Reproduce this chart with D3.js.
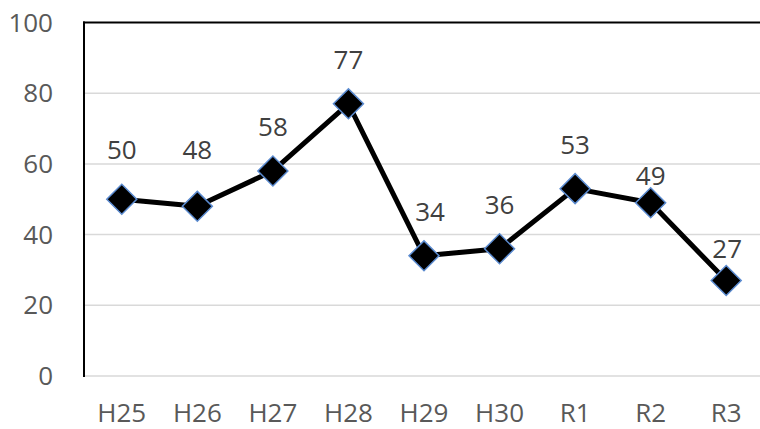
<!DOCTYPE html>
<html><head><meta charset="utf-8">
<script src="https://cdn.jsdelivr.net/npm/d3@7"></script>
<style>html,body{margin:0;padding:0;background:#fff;}svg{display:block;}</style>
</head><body>
<svg id="c" width="760" height="429"></svg>
<script>
const categories = ["H25","H26","H27","H28","H29","H30","R1","R2","R3"];
const values = [50,48,58,77,34,36,53,49,27];
const yTicks = [0,20,40,60,80,100];

(function(){
const svg = d3.select("#c");
const pl = 84, pr = 764, pt = 22.5, pb = 376;
const x = d3.scalePoint().domain(categories).range([pl, pr]).padding(0.5);
const y = d3.scaleLinear().domain([0,100]).range([pb, pt]);
const font = "'Open Sans', sans-serif";
const txt = "#595959";
// label nudges (layout only): [dx, baseline distance above point]
const nudge = [[0,40],[0,47],[0,35],[0,35],[6,35],[0,35],[0,35],[0,18],[1,23]];

// gridlines
svg.append("g").selectAll("line").data(yTicks.filter(d=>d<100)).join("line")
  .attr("x1", pl).attr("x2", 760).attr("y1", d=>y(d)).attr("y2", d=>y(d))
  .attr("stroke", "#d9d9d9").attr("stroke-width", 1.5);
// top border
svg.append("line").attr("x1", pl-1).attr("x2", 760).attr("y1", y(100)).attr("y2", y(100))
  .attr("stroke", "#000").attr("stroke-width", 2);
// left axis
svg.append("line").attr("x1", pl).attr("x2", pl).attr("y1", y(100)-1).attr("y2", y(0)+1)
  .attr("stroke", "#000").attr("stroke-width", 2);

// y tick labels
svg.append("g").selectAll("text").data(yTicks).join("text")
  .attr("x", 53).attr("y", d=>y(d)).attr("dy", "0.35em")
  .attr("text-anchor", "end").attr("font-family", font).attr("font-size", 26)
  .attr("fill", txt).text(d=>d);

// x labels
svg.append("g").selectAll("text").data(categories).join("text")
  .attr("x", d=>x(d)).attr("y", 422)
  .attr("text-anchor", "middle").attr("font-family", font).attr("font-size", 26)
  .attr("fill", txt).text(d=>d);

const data = categories.map((c,i)=>({c, v: values[i], i}));
// line
svg.append("path").datum(data)
  .attr("d", d3.line().x(d=>x(d.c)).y(d=>y(d.v)))
  .attr("fill", "none").attr("stroke", "#000").attr("stroke-width", 5)
  .attr("stroke-linejoin", "round");

// markers
svg.append("g").selectAll("path").data(data).join("path")
  .attr("transform", d=>`translate(${x(d.c)},${y(d.v)}) rotate(45)`)
  .attr("d", "M-10.6,-10.6H10.6V10.6H-10.6Z")
  .attr("fill", "#000").attr("stroke", "#5b8bd0").attr("stroke-width", 1.5);

// data labels
svg.append("g").selectAll("text").data(data).join("text")
  .attr("x", d=>x(d.c) + nudge[d.i][0]).attr("y", d=>y(d.v) - nudge[d.i][1])
  .attr("text-anchor", "middle").attr("font-family", font).attr("font-size", 26)
  .attr("fill", "#404040").text(d=>d.v);
})();
</script>
</body></html>
